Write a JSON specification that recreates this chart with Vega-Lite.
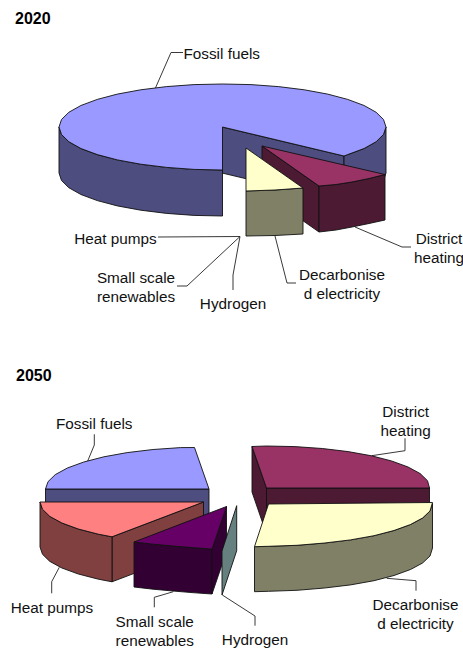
{"$schema":"https://vega.github.io/schema/vega-lite/v6.json","width":463,"height":648,"padding":0,"autosize":"none","background":"white","config":{"view":{"stroke":null}},"projection":{"type":"identity","scale":1,"translate":[0,0]},"layer":[
{"data":{"values":[
{"type":"Feature","properties":{"year":2020,"slice":"Fossil fuels"},"geometry":{"type":"LineString","coordinates":[[183,52.5],[171,52.5],[155,89]]}},
{"type":"Feature","properties":{"year":2020,"slice":"Heat pumps"},"geometry":{"type":"LineString","coordinates":[[158,237],[240,236.5]]}},
{"type":"Feature","properties":{"year":2020,"slice":"Small scale renewables"},"geometry":{"type":"LineString","coordinates":[[177,286],[187,286],[240,236.5]]}},
{"type":"Feature","properties":{"year":2020,"slice":"Hydrogen"},"geometry":{"type":"LineString","coordinates":[[233,290],[233,275],[240,236.5]]}},
{"type":"Feature","properties":{"year":2020,"slice":"Decarbonised electricity"},"geometry":{"type":"LineString","coordinates":[[296,283],[287,283],[275,236]]}},
{"type":"Feature","properties":{"year":2020,"slice":"District heating"},"geometry":{"type":"LineString","coordinates":[[411,247],[402,247],[355,227]]}},
{"type":"Feature","properties":{"year":2050,"slice":"Fossil fuels"},"geometry":{"type":"LineString","coordinates":[[94.3,434.3],[94.3,445],[87.7,461]]}},
{"type":"Feature","properties":{"year":2050,"slice":"District heating"},"geometry":{"type":"LineString","coordinates":[[405,438.3],[405,450.7],[371.7,455.7]]}},
{"type":"Feature","properties":{"year":2050,"slice":"Heat pumps"},"geometry":{"type":"LineString","coordinates":[[51.7,593.3],[51.7,581.7],[59.3,567.3]]}},
{"type":"Feature","properties":{"year":2050,"slice":"Small scale renewables"},"geometry":{"type":"LineString","coordinates":[[154.3,607.3],[154.3,597.3],[173.3,591.7]]}},
{"type":"Feature","properties":{"year":2050,"slice":"Hydrogen"},"geometry":{"type":"LineString","coordinates":[[255,625.7],[255,616],[222.3,595]]}},
{"type":"Feature","properties":{"year":2050,"slice":"Decarbonised electricity"},"geometry":{"type":"LineString","coordinates":[[416,590.7],[416,580.7],[386.7,578.3]]}}
]},"mark":{"type":"geoshape","filled":false,"stroke":"#222222","strokeWidth":0.9},"encoding":{}},
{"data":{"values":[
{"type":"Feature","properties":{"part":"Fossil fuels side"},"geometry":{"type":"Polygon","coordinates":[[[222,127],[344,156],[344,202],[222,173],[222,127]]]}},
{"type":"Feature","properties":{"part":"Fossil fuels side"},"geometry":{"type":"Polygon","coordinates":[[[344,156],[347.7,154.6],[364.1,148.5],[376.2,141.7],[383.5,134.5],[386,127],[386,173],[383.5,180.5],[376.2,187.7],[364.1,194.5],[347.7,200.6],[344,202],[344,156]]]}},
{"type":"Feature","properties":{"part":"Fossil fuels side"},"geometry":{"type":"Polygon","coordinates":[[[59,127],[61.5,134.5],[68.8,141.7],[80.9,148.5],[97.3,154.6],[117.4,159.9],[140.7,164.2],[166.6,167.4],[194.1,169.4],[222.5,170],[222.5,216],[194.1,215.4],[166.6,213.4],[140.7,210.2],[117.4,205.9],[97.3,200.6],[80.9,194.5],[68.8,187.7],[61.5,180.5],[59,173],[59,127]]]}},
{"type":"Feature","properties":{"part":"Fossil fuels top"},"geometry":{"type":"Polygon","coordinates":[[[222.5,127],[344,156],[347.7,154.6],[364.1,148.5],[376.2,141.7],[383.5,134.5],[386,127],[383.5,119.5],[376.2,112.3],[364.1,105.5],[347.7,99.4],[327.6,94.1],[304.3,89.8],[278.4,86.6],[250.9,84.6],[222.5,84],[194.1,84.6],[166.6,86.6],[140.7,89.8],[117.4,94.1],[97.3,99.4],[80.9,105.5],[68.8,112.3],[61.5,119.5],[59,127],[61.5,134.5],[68.8,141.7],[80.9,148.5],[97.3,154.6],[117.4,159.9],[140.7,164.2],[166.6,167.4],[194.1,169.4],[222.5,170],[222.5,127]]]}},
{"type":"Feature","properties":{"part":"District heating side"},"geometry":{"type":"Polygon","coordinates":[[[262,146],[319,186],[319,232],[262,192],[262,146]]]}},
{"type":"Feature","properties":{"part":"District heating side"},"geometry":{"type":"Polygon","coordinates":[[[319,186],[336,184.5],[352,182],[369,178.5],[385,174.5],[385,220],[369,223.5],[352,227],[336,230],[319,232],[319,186]]]}},
{"type":"Feature","properties":{"part":"District heating top"},"geometry":{"type":"Polygon","coordinates":[[[262,146],[385,174.5],[369,178.5],[352,182],[336,184.5],[319,186],[262,146]]]}},
{"type":"Feature","properties":{"part":"Decarbonised electricity side"},"geometry":{"type":"Polygon","coordinates":[[[246,191],[275,190],[303,188],[303,234],[275,235.5],[246,236],[246,191]]]}},
{"type":"Feature","properties":{"part":"Decarbonised electricity top"},"geometry":{"type":"Polygon","coordinates":[[[246,148],[303,188],[275,190],[246,191],[246,148]]]}},
{"type":"Feature","properties":{"part":"Fossil fuels side"},"geometry":{"type":"Polygon","coordinates":[[[45.5,489],[209,489],[209,535],[45.5,535],[45.5,489]]]}},
{"type":"Feature","properties":{"part":"Fossil fuels top"},"geometry":{"type":"Polygon","coordinates":[[[209,489],[194.5,447.5],[180.6,447.6],[153.1,449.5],[127.2,452.6],[103.9,456.8],[83.8,462],[67.4,468],[55.3,474.6],[48,481.7],[45.5,489],[209,489]]]}},
{"type":"Feature","properties":{"part":"Heat pumps side"},"geometry":{"type":"Polygon","coordinates":[[[112,536.8],[203.5,502],[203.5,547],[112,581.8],[112,536.8]]]}},
{"type":"Feature","properties":{"part":"Heat pumps side"},"geometry":{"type":"Polygon","coordinates":[[[40,502],[42.5,509.3],[49.8,516.4],[61.9,523],[78.3,529],[98.4,534.2],[112,536.8],[112,581.8],[98.4,579.2],[78.3,574],[61.9,568],[49.8,561.4],[42.5,554.3],[40,547],[40,502]]]}},
{"type":"Feature","properties":{"part":"Heat pumps top"},"geometry":{"type":"Polygon","coordinates":[[[203.5,502],[40,502],[42.5,509.3],[49.8,516.4],[61.9,523],[78.3,529],[98.4,534.2],[112,536.8],[203.5,502]]]}},
{"type":"Feature","properties":{"part":"Small scale renewables side"},"geometry":{"type":"Polygon","coordinates":[[[134,542],[153,544.2],[173,546],[192,547.6],[212,549],[212,594],[192,592.6],[173,591],[153,589.2],[134,587],[134,542]]]}},
{"type":"Feature","properties":{"part":"Small scale renewables side"},"geometry":{"type":"Polygon","coordinates":[[[226.5,506.5],[212,549],[212,594],[226.5,551.5],[226.5,506.5]]]}},
{"type":"Feature","properties":{"part":"Small scale renewables top"},"geometry":{"type":"Polygon","coordinates":[[[226.5,506.5],[134,542],[153,544.2],[173,546],[192,547.6],[212,549],[226.5,506.5]]]}},
{"type":"Feature","properties":{"part":"Hydrogen side"},"geometry":{"type":"Polygon","coordinates":[[[236.7,505.7],[222,551],[222,595],[236.7,550.7],[236.7,505.7]]]}},
{"type":"Feature","properties":{"part":"District heating side"},"geometry":{"type":"Polygon","coordinates":[[[252,446.5],[266.5,488],[266.5,534],[252,492],[252,446.5]]]}},
{"type":"Feature","properties":{"part":"District heating side"},"geometry":{"type":"Polygon","coordinates":[[[266.5,488],[429.5,488],[429.5,534],[266.5,534],[266.5,488]]]}},
{"type":"Feature","properties":{"part":"District heating top"},"geometry":{"type":"Polygon","coordinates":[[[252,446.5],[266.5,446],[294.9,446.6],[322.4,448.5],[348.2,451.6],[371.6,455.8],[391.7,461],[408.1,467],[420.2,473.6],[427.5,480.7],[429.5,488],[266.5,488],[252,446.5]]]}},
{"type":"Feature","properties":{"part":"Decarbonised electricity side"},"geometry":{"type":"Polygon","coordinates":[[[432.5,503],[430,511],[422.6,518],[410.5,524.5],[394,530.5],[374,535.7],[350.5,539.9],[324.6,543],[297,545.3],[268.5,546.3],[254.5,546.7],[254.5,591.7],[268.5,591.3],[297,590.3],[324.6,588],[350.5,584.9],[374,580.7],[394,575.5],[410.5,569.5],[422.6,563],[430,556],[432.5,548],[432.5,503]]]}},
{"type":"Feature","properties":{"part":"Decarbonised electricity top"},"geometry":{"type":"Polygon","coordinates":[[[268.5,504],[432.5,502.5],[430,511],[422.6,518],[410.5,524.5],[394,530.5],[374,535.7],[350.5,539.9],[324.6,543],[297,545.3],[268.5,546.3],[254.5,546.7],[268.5,504]]]}}
]},"mark":{"type":"geoshape","stroke":"#111111","strokeWidth":0.9,"fillOpacity":1},"encoding":{"fill":{"field":"properties.part","type":"nominal","legend":null,"scale":{"domain":["Fossil fuels top","Fossil fuels side","District heating top","District heating side","Decarbonised electricity top","Decarbonised electricity side","Heat pumps top","Heat pumps side","Small scale renewables top","Small scale renewables side","Hydrogen side"],"range":["#9999FF","#4D4D80","#993366","#4D1A33","#FFFFCC","#808066","#FF8080","#804040","#660066","#330033","#668080"]}}}},
{"data":{"values":[
{"label":"Fossil fuels","lon":221.7,"lat":53.5},
{"label":"Heat pumps","lon":115.5,"lat":238.5},
{"label":"Small scale\nrenewables","lon":136,"lat":278},
{"label":"Hydrogen","lon":233,"lat":303.5},
{"label":"Decarbonise\nd electricity","lon":342,"lat":275},
{"label":"District\nheating","lon":439,"lat":238.5},
{"label":"Fossil fuels","lon":94.2,"lat":424},
{"label":"District\nheating","lon":405.7,"lat":412},
{"label":"Heat pumps","lon":52,"lat":608},
{"label":"Small scale\nrenewables","lon":154.7,"lat":622},
{"label":"Hydrogen","lon":255,"lat":640},
{"label":"Decarbonise\nd electricity","lon":415.5,"lat":605}
]},"mark":{"type":"text","font":"Liberation Sans","fontSize":15.3,"lineHeight":19.3,"lineBreak":"\n","align":"center","baseline":"middle","color":"#111111"},"encoding":{"longitude":{"field":"lon","type":"quantitative"},"latitude":{"field":"lat","type":"quantitative"},"text":{"field":"label","type":"nominal"}}},
{"data":{"values":[{"label":"2020","lon":15,"lat":18.5},{"label":"2050","lon":16,"lat":375.5}]},"mark":{"type":"text","font":"Liberation Sans","fontSize":16,"fontWeight":"bold","align":"left","baseline":"middle","color":"#000000"},"encoding":{"longitude":{"field":"lon","type":"quantitative"},"latitude":{"field":"lat","type":"quantitative"},"text":{"field":"label","type":"nominal"}}}
]}
